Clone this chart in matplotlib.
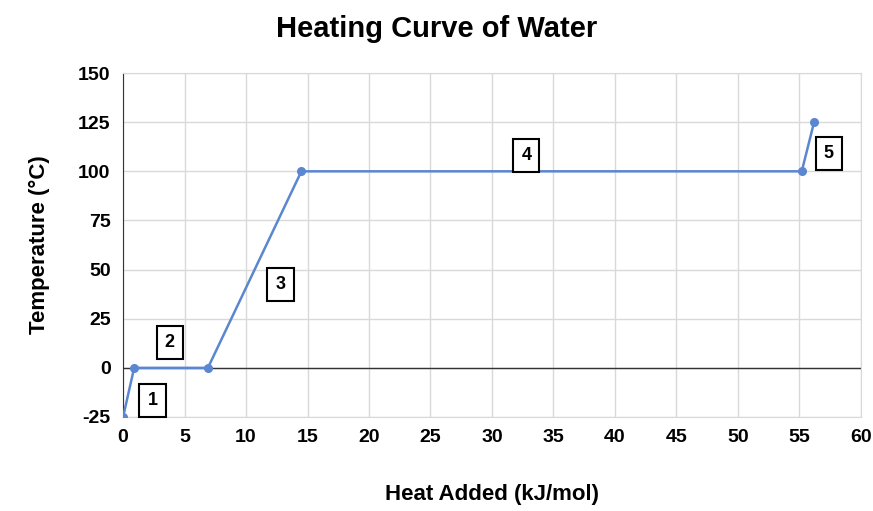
import matplotlib.pyplot as plt

# Heating curve data
heat = [0, 0.9, 6.9, 14.5, 55.2, 56.2]
temp = [-25, 0, 0, 100, 100, 125]

# segment labels (number, x, y)
seg_labels = ["1", "2", "3", "4", "5"]
seg_x = [2.4, 3.8, 12.8, 32.8, 57.4]
seg_y = [-16.5, 13, 42.5, 108, 109]

plt.rcParams['font.family'] = ['Liberation Sans', 'DejaVu Sans']
plt.rcParams['axes.unicode_minus'] = False

fig = plt.figure(figsize=(8.73, 5.11), dpi=100)
ax = fig.add_axes([0.141, 0.184, 0.845, 0.673])

ax.plot(heat, temp, color='#5b86d0', lw=1.8, marker='o', ms=5.5, zorder=3)
ax.axhline(0, color='#333333', lw=1, zorder=2)

for lab, x, y in zip(seg_labels, seg_x, seg_y):
    ax.text(x, y, lab, ha='center', va='center', fontsize=13, fontweight='bold',
            bbox=dict(boxstyle='square,pad=0.45', fc='white', ec='black', lw=1.5))

ax.set_xlim(0, 60)
ax.set_ylim(-25, 150)
ax.set_xticks(range(0, 61, 5))
ax.set_yticks(range(-25, 151, 25))
ax.grid(True, color='#d9d9d9', lw=1)
ax.set_axisbelow(True)
for s in ['top', 'right', 'bottom']:
    ax.spines[s].set_color('#d9d9d9')
ax.spines['left'].set_color('#333333')
ax.tick_params(length=0, pad=9, labelsize=14)
for lbl in ax.get_xticklabels() + ax.get_yticklabels():
    lbl.set_fontweight('bold')

ax.set_xlabel('Heat Added (kJ/mol)', fontsize=16, fontweight='bold', labelpad=27)
ax.set_ylabel('Temperature (°C)', fontsize=16, fontweight='bold', labelpad=20)
fig.suptitle('Heating Curve of Water', fontsize=21, fontweight='bold', y=0.97)

fig.savefig('out.png', dpi=100)
